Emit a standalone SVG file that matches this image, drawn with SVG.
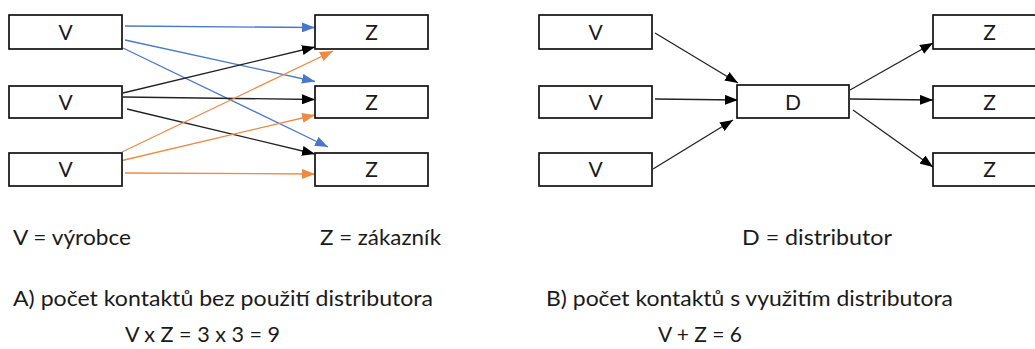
<svg xmlns="http://www.w3.org/2000/svg" width="1035" height="349" viewBox="0 0 1035 349">
<style>
.box{fill:#fff;stroke:#111;stroke-width:1.7}
.lbl{font-family:Lato,"Open Sans","Liberation Sans",sans-serif;font-size:21px;fill:#1a1a1a;text-anchor:middle}
.txt{font-family:Lato,"Open Sans","Liberation Sans",sans-serif;font-size:21px;fill:#1a1a1a}
.k{stroke:#222;stroke-width:1.3;fill:none;marker-end:url(#ak)}
.b{stroke:#4a78c8;stroke-width:1.3;fill:none;marker-end:url(#ab)}
.o{stroke:#ee8a44;stroke-width:1.3;fill:none;marker-end:url(#ao)}
</style>
<defs>
<marker id="ak" markerUnits="userSpaceOnUse" markerWidth="13" markerHeight="10" refX="13" refY="5" orient="auto"><path d="M0,0 L13,5 L0,10 z" fill="#000"/></marker>
<marker id="ab" markerUnits="userSpaceOnUse" markerWidth="13" markerHeight="10" refX="13" refY="5" orient="auto"><path d="M0,0 L13,5 L0,10 z" fill="#4a78c8"/></marker>
<marker id="ao" markerUnits="userSpaceOnUse" markerWidth="13" markerHeight="10" refX="13" refY="5" orient="auto"><path d="M0,0 L13,5 L0,10 z" fill="#ee8a44"/></marker>
</defs>
<g id="connectors">
<line class="b" x1="125" y1="26" x2="315" y2="27.5"/>
<line class="b" x1="125" y1="40" x2="315" y2="81.5"/>
<line class="b" x1="123" y1="48" x2="328" y2="147"/>
<line class="k" x1="123" y1="93" x2="315" y2="47"/>
<line class="k" x1="123" y1="97" x2="315" y2="99.5"/>
<line class="k" x1="127" y1="109" x2="315" y2="154"/>
<line class="o" x1="122" y1="152" x2="333" y2="51"/>
<line class="o" x1="120" y1="161" x2="315" y2="115"/>
<line class="o" x1="125" y1="173" x2="315" y2="174"/>
<line class="k" x1="655" y1="33" x2="738" y2="83"/>
<line class="k" x1="655" y1="99" x2="738" y2="100"/>
<line class="k" x1="653" y1="169" x2="733" y2="120"/>
<line class="k" x1="850" y1="90" x2="933" y2="43"/>
<line class="k" x1="850" y1="99" x2="933" y2="100"/>
<line class="k" x1="853" y1="110" x2="933" y2="167"/>
</g>
<g id="a-v1"><rect class="box" x="9" y="15" width="113" height="34"/><text class="lbl" x="65.5" y="39.5">V</text></g>
<g id="a-v2"><rect class="box" x="9" y="86" width="113" height="32"/><text class="lbl" x="65.5" y="109.5">V</text></g>
<g id="a-v3"><rect class="box" x="9" y="153" width="113" height="33"/><text class="lbl" x="65.5" y="177">V</text></g>
<g id="a-z1"><rect class="box" x="315" y="15" width="113" height="34"/><text class="lbl" x="371.5" y="39.5">Z</text></g>
<g id="a-z2"><rect class="box" x="315" y="86" width="113" height="32"/><text class="lbl" x="371.5" y="109.5">Z</text></g>
<g id="a-z3"><rect class="box" x="315" y="153" width="113" height="33"/><text class="lbl" x="371.5" y="177">Z</text></g>
<g id="b-v1"><rect class="box" x="539" y="15" width="113" height="34"/><text class="lbl" x="595.5" y="39.5">V</text></g>
<g id="b-v2"><rect class="box" x="539" y="86" width="113" height="32"/><text class="lbl" x="595.5" y="109.5">V</text></g>
<g id="b-v3"><rect class="box" x="539" y="153" width="113" height="33"/><text class="lbl" x="595.5" y="177">V</text></g>
<g id="b-d"><rect class="box" x="737" y="85" width="112" height="33"/><text class="lbl" x="793" y="109.5">D</text></g>
<g id="b-z1"><rect class="box" x="933" y="15" width="113" height="34"/><text class="lbl" x="989.5" y="39.5">Z</text></g>
<g id="b-z2"><rect class="box" x="933" y="86" width="113" height="32"/><text class="lbl" x="989.5" y="109.5">Z</text></g>
<g id="b-z3"><rect class="box" x="933" y="153" width="113" height="33"/><text class="lbl" x="989.5" y="177">Z</text></g>
<g id="texts">
<text class="txt" x="13" y="245" textLength="118" lengthAdjust="spacingAndGlyphs">V = výrobce</text>
<text class="txt" x="320" y="245" textLength="121" lengthAdjust="spacingAndGlyphs">Z = zákazník</text>
<text class="txt" x="742" y="245" textLength="150" lengthAdjust="spacingAndGlyphs">D =  distributor</text>
<text class="txt" x="13" y="306" textLength="420" lengthAdjust="spacingAndGlyphs">A) počet kontaktů bez použití distributora</text>
<text class="txt" x="125" y="342" textLength="155" lengthAdjust="spacingAndGlyphs">V x Z = 3 x 3 = 9</text>
<text class="txt" x="546" y="306" textLength="407" lengthAdjust="spacingAndGlyphs">B) počet kontaktů s využitím distributora</text>
<text class="txt" x="658" y="342" textLength="84" lengthAdjust="spacingAndGlyphs">V + Z = 6</text>
</g>
</svg>
